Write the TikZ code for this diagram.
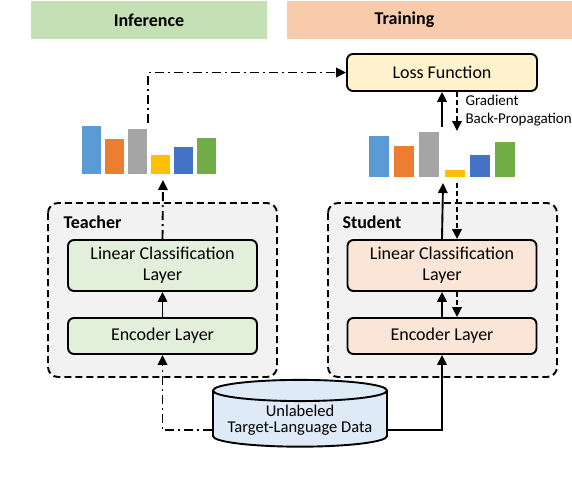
\documentclass[tikz,border=0pt]{standalone}
\usepackage{fontspec}
\setmainfont{Carlito}
\usepackage{xcolor}
\usepackage{tikz}
\usetikzlibrary{arrows.meta, positioning, calc, shapes.geometric}
\definecolor{InferGreen}{HTML}{C5E0B4}
\definecolor{TrainPeach}{HTML}{F8CBAD}
\definecolor{TeacherGreen}{HTML}{E2EFDA}
\definecolor{StudentPeach}{HTML}{FBE5D6}
\definecolor{LossCream}{HTML}{FFF2CC}
\definecolor{DataBlue}{HTML}{DEEBF7}
\definecolor{PanelGray}{HTML}{F2F2F2}
\definecolor{BarBlue}{HTML}{5B9BD5}
\definecolor{BarOrange}{HTML}{ED7D31}
\definecolor{BarGray}{HTML}{A5A5A5}
\definecolor{BarYellow}{HTML}{FFC000}
\definecolor{BarNavy}{HTML}{4472C4}
\definecolor{BarGreen}{HTML}{70AD47}

\tikzset{
  layerbox/.style={draw, line width=1.9pt, rounded corners=6pt, minimum width=189pt,
    align=center, font=\fontsize{18}{21}\selectfont},
  header/.style={minimum height=38pt, font=\fontsize{18}{21}\selectfont\bfseries},
  panel/.style={draw, line width=1.9pt, rounded corners=10pt, fill=PanelGray,
    dash pattern=on 7pt off 4pt},
  flow/.style={line width=1.9pt, -{Triangle[length=10pt,width=9.5pt]}},
  teacherline/.style={dash pattern=on 9pt off 4pt on 2pt off 4pt},
  backline/.style={dash pattern=on 5pt off 3pt},
}

\begin{document}
\begin{tikzpicture}[x=1pt, y=-1pt]
  \useasboundingbox (0,0) rectangle (572,484);

  % stage headers
  \node[header, fill=InferGreen, minimum width=236pt] (infer) at (149,20) {Inference};
  \fill[TrainPeach] (287,1) rectangle (572,39);
  \node[header] (train) at (404.5,20) {Training};

  % teacher / student panels
  \draw[panel] (48,203) rectangle (277,377);
  \draw[panel] (328,203) rectangle (557,377);
  \node[anchor=west, font=\fontsize{18}{21}\selectfont\bfseries] (tname) at (60,222) {Teacher};
  \node[anchor=west, font=\fontsize{18}{21}\selectfont\bfseries] (sname) at (339,222) {Student};

  \node[layerbox, fill=TeacherGreen, minimum height=51pt] (tcls) at (162.5,265.5) {Linear Classification\\Layer};
  \node[layerbox, fill=TeacherGreen, minimum height=36pt] (tenc) at (162.5,336) {Encoder Layer};
  \node[layerbox, fill=StudentPeach, minimum height=51pt] (scls) at (442,265.5) {Linear Classification\\Layer};
  \node[layerbox, fill=StudentPeach, minimum height=36pt] (senc) at (442,336) {Encoder Layer};

  \node[layerbox, fill=LossCream, minimum width=190pt, minimum height=37pt] (loss) at (442,72.5) {Loss Function};

  \node[cylinder, shape border rotate=90, aspect=0.14, draw, line width=1.9pt, fill=DataBlue,
    minimum width=174pt, minimum height=55pt, align=center,
    font=\fontsize{16.5}{16}\selectfont] (data) at (300,420.5) {Unlabeled\\Target-Language Data};

  % output distributions
  \foreach \bx/\bt/\bc in {82/126/BarBlue, 105/139/BarOrange, 128/129/BarGray,
                           151/155/BarYellow, 174/147/BarNavy, 197/138/BarGreen}
    \fill[\bc] (\bx,\bt) rectangle (\bx+19,174);
  \foreach \bx/\bt/\bc in {369/136/BarBlue, 394/146/BarOrange, 419/132/BarGray,
                           445/170/BarYellow, 470/155/BarNavy, 495/142/BarGreen}
    \fill[\bc] (\bx,\bt) rectangle (\bx+20,177);

  \coordinate (tbarstop) at (148,123);
  \coordinate (tbarsbot) at (163,180);
  \coordinate (sbarstop) at (442,127);
  \coordinate (sbarsbot) at (443,183);
  \coordinate (gradend) at (457,131);
  \coordinate (gradstart) at (457,183);

  \node[anchor=west, align=left, font=\fontsize{15}{18}\selectfont] (gradlbl) at (462,111) {Gradient\\Back-Propagation};

  % teacher path
  \draw[flow, teacherline] (tbarstop) |- (loss.west);
  \draw[flow, teacherline] (tcls.north) -- (tbarsbot);
  \draw[flow] (tenc) -- (tcls);
  \draw[flow, teacherline] ($(data.west)+(0,9.5)$) -| (tenc.south);

  % student path
  \draw[flow] ($(data.east)+(0,9.5)$) -| (senc.south);
  \draw[flow] (senc) -- (scls);
  \draw[flow] (scls.north) -- (sbarsbot);
  \draw[flow] (sbarstop) -- (loss.south);
  \draw[flow, backline] (loss.south -| gradend) -- (gradend);
  \draw[flow, backline] (gradstart) -- (gradstart |- scls.north);
  \draw[flow, backline] (scls.south -| gradstart) -- (gradstart |- senc.north);
\end{tikzpicture}
\end{document}
